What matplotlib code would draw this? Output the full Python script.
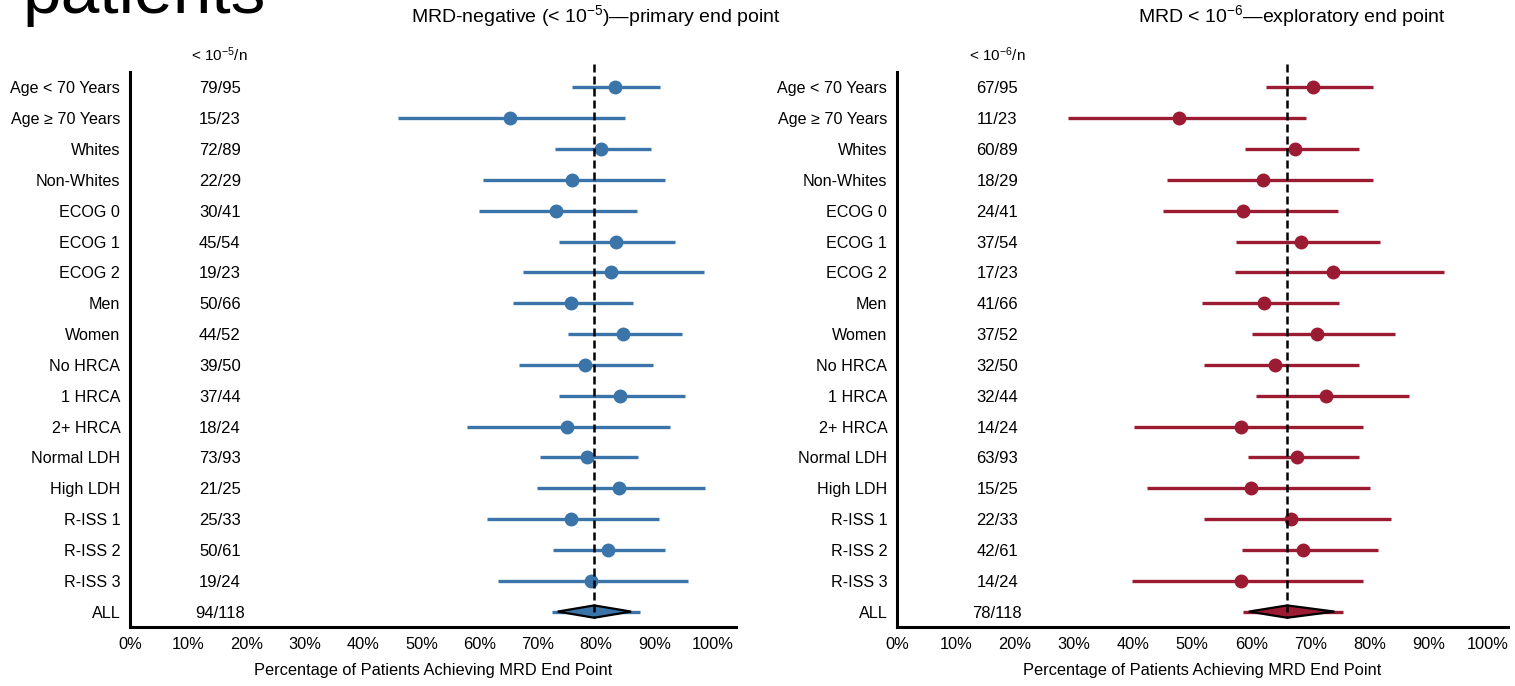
import numpy as np
import matplotlib
matplotlib.use("Agg")
import matplotlib.pyplot as plt
from matplotlib.patches import Polygon

plt.rcParams['font.family'] = ['Liberation Sans', 'DejaVu Sans']
plt.rcParams['mathtext.fontset'] = 'custom'
plt.rcParams['mathtext.rm'] = 'Liberation Sans'
plt.rcParams['mathtext.it'] = 'Liberation Sans:italic'

# subgroup labels, top to bottom
g_groups = ["Age < 70 Years", "Age \u2265 70 Years", "Whites", "Non-Whites",
            "ECOG 0", "ECOG 1", "ECOG 2", "Men", "Women", "No HRCA", "1 HRCA",
            "2+ HRCA", "Normal LDH", "High LDH", "R-ISS 1", "R-ISS 2", "R-ISS 3", "ALL"]

# MRD < 1e-5 (primary)
g_k5 = [79, 15, 72, 22, 30, 45, 19, 50, 44, 39, 37, 18, 73, 21, 25, 50, 19, 94]
g_n5 = [95, 23, 89, 29, 41, 54, 23, 66, 52, 50, 44, 24, 93, 25, 33, 61, 24, 118]
g_lo5 = [75.9, 46.0, 73.0, 60.5, 59.9, 73.7, 67.4, 65.7, 75.1, 66.8, 73.6,
         57.9, 70.4, 69.9, 61.3, 72.6, 63.1, 72.4]
g_hi5 = [91.0, 85.0, 89.4, 91.8, 87.0, 93.6, 98.5, 86.4, 94.8, 89.8, 95.3,
         92.6, 87.1, 98.7, 90.7, 91.9, 95.7, 87.5]

# MRD < 1e-6 (exploratory)
g_k6 = [67, 11, 60, 18, 24, 37, 17, 41, 37, 32, 32, 14, 63, 15, 22, 42, 14, 78]
g_n6 = g_n5
g_lo6 = [62.5, 29.0, 58.9, 45.8, 45.0, 57.4, 57.2, 51.7, 60.1, 52.0, 60.8,
         40.1, 59.4, 42.3, 52.0, 58.5, 39.8, 58.6]
g_hi6 = [80.6, 69.3, 78.2, 80.6, 74.7, 81.8, 92.7, 74.8, 84.4, 78.3, 86.7,
         79.0, 78.3, 80.2, 83.6, 81.4, 78.9, 75.6]

g_xticks = list(range(0, 101, 10))

BLUE = "#3a74a8"
RED = "#9b1c32"


def draw_panel(ax, k, n, lo, hi, color, header, ncol_x, xmax):
    rows = np.arange(len(g_groups))
    pct = [100.0 * a / b for a, b in zip(k, n)]
    last = len(g_groups) - 1

    # CI lines and points for subgroups
    for i in rows:
        ax.plot([lo[i], hi[i]], [i, i], color=color, lw=2.4, solid_capstyle='butt', zorder=2)
        if i != last:
            ax.plot(pct[i], i, 'o', color=color, ms=9, zorder=3)

    # overall diamond
    y = last
    h = 0.2
    d = Polygon([[lo[y] + 1, y], [pct[y], y - h], [hi[y] - 1.5, y], [pct[y], y + h]],
                closed=True, facecolor=color, edgecolor='black', lw=1.6, zorder=4)
    ax.add_patch(d)

    # reference line at overall rate
    ax.plot([pct[last], pct[last]], [-0.75, last + 0.2], color='black', lw=1.8,
            ls=(0, (3.2, 1.6)), zorder=5, clip_on=False)

    # n column
    for i in rows:
        ax.text(ncol_x, i, "%d/%d" % (k[i], n[i]), ha='center', va='center_baseline', fontsize=12)
    ax.text(ncol_x, -1.05, header, ha='center', va='center', fontsize=11, clip_on=False)

    ax.set_xlim(0, xmax)
    ax.set_ylim(last + 0.5, -0.5)
    ax.set_yticks(rows)
    ax.set_yticklabels(g_groups, fontsize=11.6)
    ax.set_xticks(g_xticks)
    ax.set_xticklabels(["%d%%" % t for t in g_xticks], fontsize=11.8)
    ax.tick_params(axis='both', length=0)
    ax.tick_params(axis='y', pad=7)
    ax.tick_params(axis='x', pad=7)
    ax.set_xlabel("Percentage of Patients Achieving MRD End Point", fontsize=11.8, labelpad=8)
    for s in ['top', 'right']:
        ax.spines[s].set_visible(False)
    for s in ['left', 'bottom']:
        ax.spines[s].set_linewidth(2.2)
        ax.spines[s].set_color('black')


def main():
    fig = plt.figure(figsize=(15.15, 6.86), dpi=100)
    ax1 = fig.add_axes([130 / 1515, 59 / 686, 606 / 1515, 555 / 686])
    ax2 = fig.add_axes([897 / 1515, 59 / 686, 611 / 1515, 555 / 686])

    draw_panel(ax1, g_k5, g_n5, g_lo5, g_hi5, BLUE, r"< 10$^{-5}$/n", 15.4, 104)
    draw_panel(ax2, g_k6, g_n6, g_lo6, g_hi6, RED, r"< 10$^{-6}$/n", 17.0, 103.5)

    fig.text(596 / 1515, 1 - 16 / 686, r"MRD-negative (< 10$^{-5}$)" + "\u2014primary end point",
             ha='center', va='center', fontsize=14)
    fig.text(1292 / 1515, 1 - 16 / 686, r"MRD < 10$^{-6}$" + "\u2014exploratory end point",
             ha='center', va='center', fontsize=14)

    # cropped slide heading (cut at the top edge, as in the source)
    fig.text(23 / 1515, 1 - 13 / 686, "patients", ha='left', va='baseline', fontsize=50)

    fig.savefig("out.png", dpi=100)


if __name__ == "__main__":
    main()
